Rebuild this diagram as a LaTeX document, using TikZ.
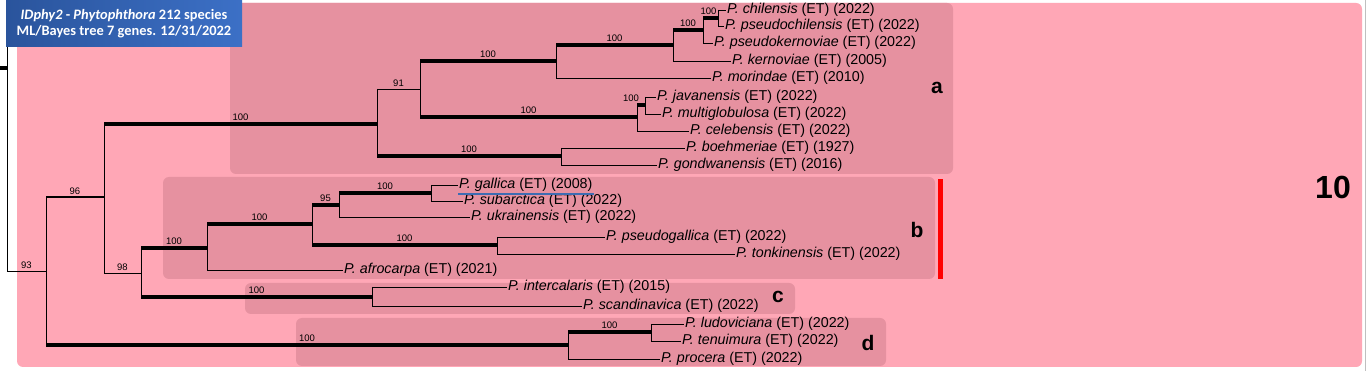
\documentclass[tikz,border=0pt]{standalone}
\usepackage{fontspec}
\setmainfont{Liberation Sans}
\newfontfamily\titlefont{Carlito}
\usetikzlibrary{positioning}
\definecolor{outerpink}{RGB}{255,167,182}
\definecolor{cladepink}{RGB}{230,145,160}
\definecolor{titleblueA}{RGB}{42,84,156}
\definecolor{titleblueB}{RGB}{60,112,198}
\definecolor{markblue}{RGB}{61,108,178}

\begin{document}
\begin{tikzpicture}[x=1pt,y=-1pt,
    br/.style={line width=0.9pt},
    brmid/.style={line width=2pt},
    brfull/.style={line width=3.2pt},
    supp/.style={font=\fontsize{9.5}{10}\selectfont,above,inner sep=1.5pt},
    leaf/.style={anchor=west,inner sep=1pt,font=\fontsize{14.3}{16}\selectfont},
    clade/.style={font=\fontsize{21}{24}\selectfont\bfseries},
    cladebox/.style={fill=cladepink,rounded corners=6pt},
    titletext/.style={text=white,inner sep=0.5pt,font=\titlefont\bfseries\fontsize{14.4}{16}\selectfont}]

    \useasboundingbox (0,0) rectangle (1366,371);
    \fill[white] (0,0) rectangle (1366,371);
    \draw[black!25] (1365.5,0) -- (1365.5,371);
    \fill[outerpink,rounded corners=6pt] (17,3) rectangle (1362,367);
    \fill[cladebox] (230,3) rectangle (953,174);
    \fill[cladebox] (163,177) rectangle (935,279);
    \fill[cladebox] (245,283) rectangle (795,314);
    \fill[cladebox] (296,318) rectangle (886,366);

    \node[leaf] (chil) at (726,10) {\textit{P. chilensis} (ET) (2022)};
    \node[leaf] (pchil) at (724,26) {\textit{P. pseudochilensis} (ET) (2022)};
    \node[leaf] (pkern) at (713,43) {\textit{P. pseudokernoviae} (ET) (2022)};
    \node[leaf] (kern) at (731,61) {\textit{P. kernoviae} (ET) (2005)};
    \node[leaf] (morin) at (711,78) {\textit{P. morindae} (ET) (2010)};
    \node[leaf] (java) at (656,97) {\textit{P. javanensis} (ET) (2022)};
    \node[leaf] (multi) at (661,114) {\textit{P. multiglobulosa} (ET) (2022)};
    \node[leaf] (celeb) at (689,131) {\textit{P. celebensis} (ET) (2022)};
    \node[leaf] (boehm) at (685,148) {\textit{P. boehmeriae} (ET) (1927)};
    \node[leaf] (gondw) at (657,165) {\textit{P. gondwanensis} (ET) (2016)};
    \node[leaf] (galli) at (458,185) {\textit{P. gallica} (ET) (2008)};
    \node[leaf] (subar) at (463,201) {\textit{P. subarctica} (ET) (2022)};
    \node[leaf] (ukrai) at (470,217) {\textit{P. ukrainensis} (ET) (2022)};
    \node[leaf] (psgal) at (605,237) {\textit{P. pseudogallica} (ET) (2022)};
    \node[leaf] (tonki) at (735,254) {\textit{P. tonkinensis} (ET) (2022)};
    \node[leaf] (afroc) at (343,270) {\textit{P. afrocarpa} (ET) (2021)};
    \node[leaf] (inter) at (507,287) {\textit{P. intercalaris} (ET) (2015)};
    \node[leaf] (scand) at (582,306) {\textit{P. scandinavica} (ET) (2022)};
    \node[leaf] (ludov) at (684,324) {\textit{P. ludoviciana} (ET) (2022)};
    \node[leaf] (tenui) at (681,341) {\textit{P. tenuimura} (ET) (2022)};
    \node[leaf] (proce) at (660,359) {\textit{P. procera} (ET) (2022)};
    \draw[markblue,line width=2.6pt] ([yshift=-1pt]galli.south west) -- ([yshift=-1pt]galli.south east);

    \coordinate (n718) at (718,18);
    \coordinate (n703) at (703,30);
    \coordinate (n673) at (673,45);
    \coordinate (n556) at (556,61);
    \coordinate (n645) at (645,105);
    \coordinate (n637) at (637,117);
    \coordinate (n420) at (420,89);
    \coordinate (n561) at (561,156);
    \coordinate (n377) at (377,124);
    \coordinate (n431) at (431,193);
    \coordinate (n339) at (339,205);
    \coordinate (n497) at (497,245);
    \coordinate (n312) at (312,224);
    \coordinate (n207) at (207,248);
    \coordinate (n372) at (372,297);
    \coordinate (n141) at (141,273);
    \coordinate (n104) at (104,197);
    \coordinate (n651) at (651,332);
    \coordinate (n568) at (568,345);
    \coordinate (n46) at (46,271);
    \coordinate (top) at (7,0);
    \coordinate (stub) at (0,68);

    \draw[br] (n718 |- chil) -- (n718 |- pchil);
    \draw[br] (n718 |- chil) -- (chil);
    \draw[br] (n718 |- pchil) -- (pchil);
    \draw[br] (n703 |- n718) -- (n703 |- pkern);
    \draw[brfull] (n703 |- n718) -- node[supp,xshift=-2pt] {100} (n718);
    \draw[br] (n703 |- pkern) -- (pkern);
    \draw[br] (n673 |- n703) -- (n673 |- kern);
    \draw[brfull] (n673 |- n703) -- node[supp] {100} (n703);
    \draw[br] (n673 |- kern) -- (kern);
    \draw[br] (n556 |- n673) -- (n556 |- morin);
    \draw[brfull] (n556 |- n673) -- node[supp] {100} (n673);
    \draw[br] (n556 |- morin) -- (morin);
    \draw[br] (n645 |- java) -- (n645 |- multi);
    \draw[br] (n645 |- java) -- (java);
    \draw[br] (n645 |- multi) -- (multi);
    \draw[br] (n637 |- n645) -- (n637 |- celeb);
    \draw[brfull] (n637 |- n645) -- node[supp,xshift=-10pt] {100} (n645);
    \draw[br] (n637 |- celeb) -- (celeb);
    \draw[br] (n420 |- n556) -- (n420 |- n637);
    \draw[brfull] (n420 |- n556) -- node[supp] {100} (n556);
    \draw[brfull] (n420 |- n637) -- node[supp] {100} (n637);
    \draw[br] (n561 |- boehm) -- (n561 |- gondw);
    \draw[br] (n561 |- boehm) -- (boehm);
    \draw[br] (n561 |- gondw) -- (gondw);
    \draw[br] (n377 |- n420) -- (n377 |- n561);
    \draw[br] (n377 |- n420) -- node[supp] {91} (n420);
    \draw[brfull] (n377 |- n561) -- node[supp] {100} (n561);

    \draw[br] (n431 |- galli) -- (n431 |- subar);
    \draw[br] (n431 |- galli) -- (galli);
    \draw[br] (n431 |- subar) -- (subar);
    \draw[br] (n339 |- n431) -- (n339 |- ukrai);
    \draw[brfull] (n339 |- n431) -- node[supp] {100} (n431);
    \draw[br] (n339 |- ukrai) -- (ukrai);
    \draw[br] (n497 |- psgal) -- (n497 |- tonki);
    \draw[br] (n497 |- psgal) -- (psgal);
    \draw[br] (n497 |- tonki) -- (tonki);
    \draw[br] (n312 |- n339) -- (n312 |- n497);
    \draw[brfull] (n312 |- n339) -- node[supp] {95} (n339);
    \draw[brfull] (n312 |- n497) -- node[supp] {100} (n497);
    \draw[br] (n207 |- n312) -- (n207 |- afroc);
    \draw[brfull] (n207 |- n312) -- node[supp] {100} (n312);
    \draw[br] (n207 |- afroc) -- (afroc);
    \draw[br] (n372 |- inter) -- (n372 |- scand);
    \draw[br] (n372 |- inter) -- (inter);
    \draw[br] (n372 |- scand) -- (scand);
    \draw[br] (n141 |- n207) -- (n141 |- n372);
    \draw[brfull] (n141 |- n207) -- node[supp] {100} (n207);
    \draw[brfull] (n141 |- n372) -- node[supp] {100} (n372);
    \draw[br] (n104 |- n377) -- (n104 |- n141);
    \draw[brfull] (n104 |- n377) -- node[supp] {100} (n377);
    \draw[br] (n104 |- n141) -- node[supp] {98} (n141);

    \draw[br] (n651 |- ludov) -- (n651 |- tenui);
    \draw[br] (n651 |- ludov) -- (ludov);
    \draw[br] (n651 |- tenui) -- (tenui);
    \draw[br] (n568 |- n651) -- (n568 |- proce);
    \draw[brfull] (n568 |- n651) -- node[supp] {100} (n651);
    \draw[br] (n568 |- proce) -- (proce);
    \draw[br] (n46 |- n104) -- (n46 |- n568);
    \draw[brmid] (n46 |- n104) -- node[supp] {96} (n104);
    \draw[brfull] (n46 |- n568) -- node[supp] {100} (n568);
    \draw[br] (top) -- (top |- n46);
    \draw[br] (top |- n46) -- node[supp] {93} (n46);
    \draw[brfull] (stub) -- (top |- stub);

    \node[clade] (la) at (937,88) {a};
    \node[clade] (lb) at (917,230) {b};
    \node[clade] (lc) at (778,297) {c};
    \node[clade] (ld) at (868,343) {d};
    \node[font=\fontsize{32}{36}\selectfont\bfseries] (ten) at (1333,187) {10};
    \fill[red] (938,179) rectangle (943,279);

    \shade[left color=titleblueA,right color=titleblueB] (6,0) rectangle (242,47);
    \node[titletext] (t1) at (124,16) {\textit{IDphy2} - \textit{Phytophthora} 212 species};
    \node[titletext,below=2pt of t1] (t2) {ML/Bayes tree 7 genes. 12/31/2022};
\end{tikzpicture}
\end{document}
